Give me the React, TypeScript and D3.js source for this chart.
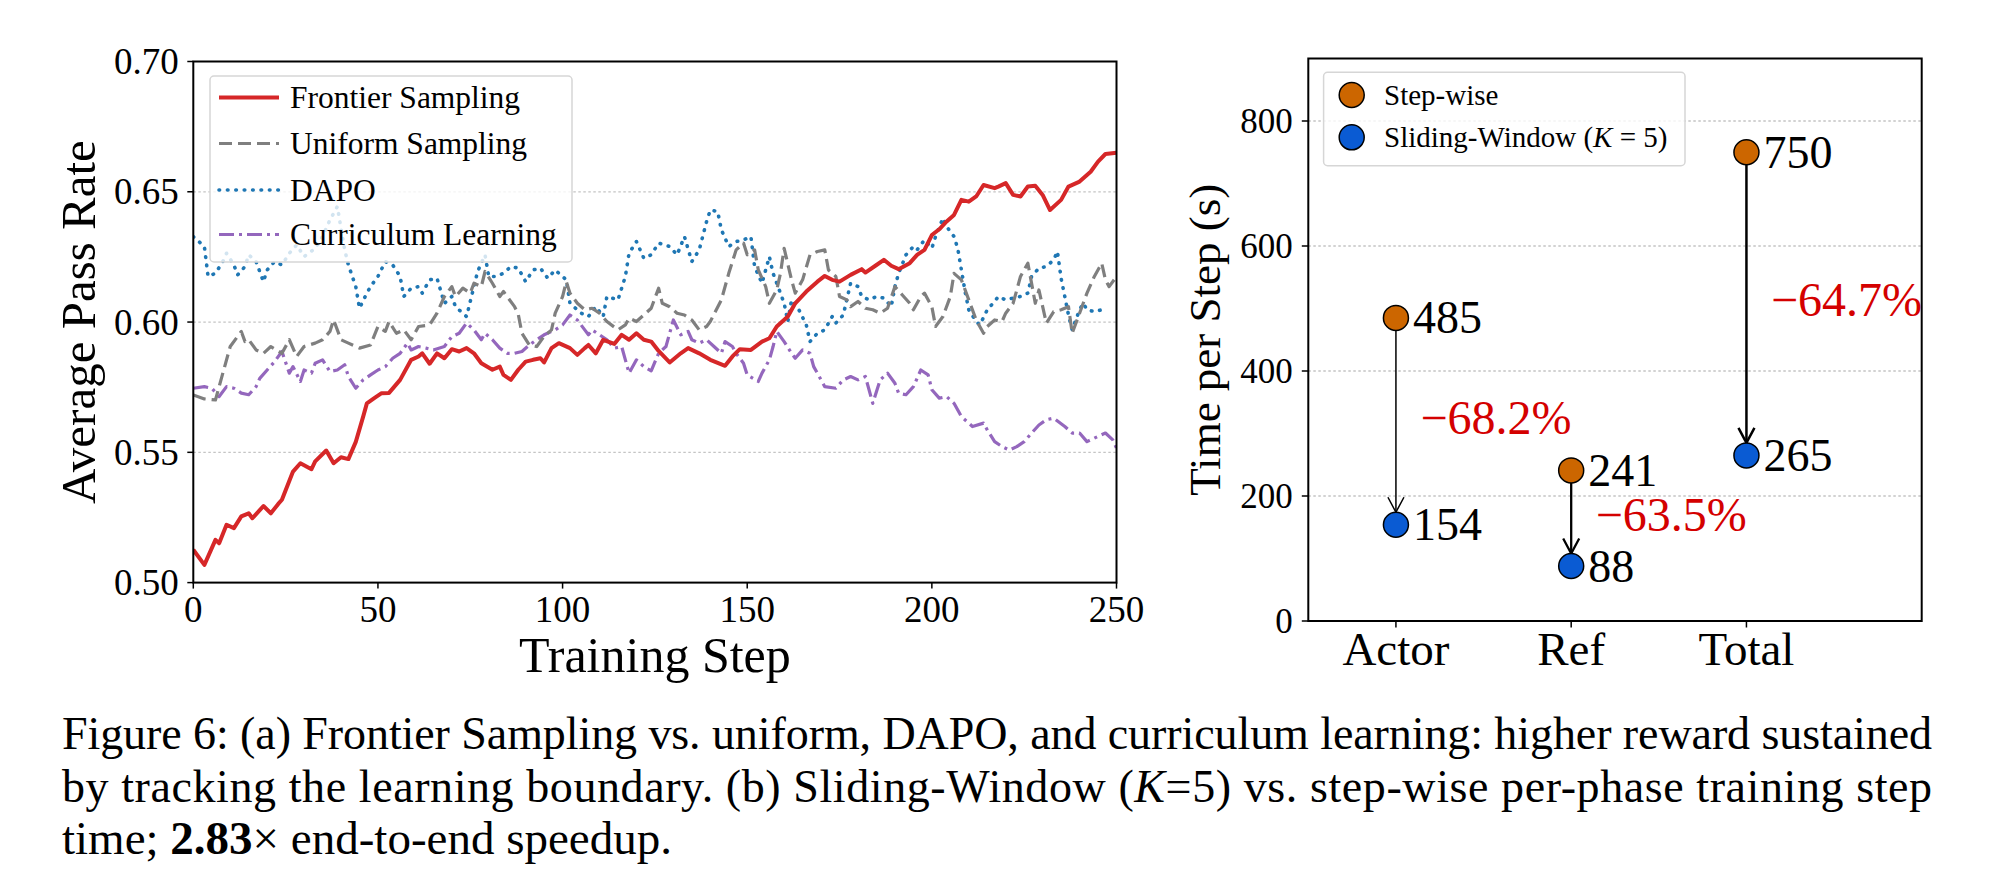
import React from "react";
import * as d3 from "d3";

type Pt = [number, number];

// ---------- Panel (a) data: [training step, average pass rate] ----------
const frontier: Pt[] = [
  [0, 0.5126], [3, 0.5068], [6, 0.5164], [7, 0.5151], [9, 0.5222], [11, 0.5209], [13, 0.5254], [15, 0.5266],
  [16, 0.5247], [19, 0.5294], [21, 0.5266], [23, 0.5302], [24, 0.5318], [27, 0.5426], [29, 0.5458], [32, 0.5435],
  [33, 0.5465], [36, 0.5507], [38, 0.5458], [40, 0.5481], [42, 0.5474], [44, 0.554], [46, 0.5637], [47, 0.5688],
  [49, 0.5708], [51, 0.5727], [53, 0.5728], [56, 0.5778], [59, 0.5855], [61, 0.5868], [62, 0.588], [64, 0.584],
  [66, 0.588], [68, 0.5861], [70, 0.5896], [72, 0.5887], [74, 0.59], [76, 0.588], [78, 0.5842], [81, 0.5817],
  [83, 0.5829], [84, 0.5797], [86, 0.5778], [88, 0.5817], [90, 0.5848], [92, 0.5855], [94, 0.5861], [95, 0.5845],
  [97, 0.59], [99, 0.5919], [102, 0.59], [104, 0.5874], [106, 0.59], [107, 0.5912], [109, 0.588], [111, 0.5932],
  [114, 0.5916], [116, 0.5951], [118, 0.5932], [120, 0.5957], [122, 0.5932], [124, 0.5925], [126, 0.5889],
  [129, 0.5845], [132, 0.588], [134, 0.59], [137, 0.588], [140, 0.5855], [144, 0.5832], [146, 0.5868],
  [148, 0.5896], [151, 0.5893], [154, 0.5925], [156, 0.5938], [158, 0.5983], [161, 0.6021], [163, 0.6072],
  [166, 0.6117], [169, 0.6155], [171, 0.6177], [173, 0.6162], [175, 0.6155], [178, 0.6181], [181, 0.6203],
  [182, 0.619], [185, 0.6219], [187, 0.6239], [189, 0.6216], [191, 0.6203], [194, 0.6226], [196, 0.6258],
  [198, 0.6277], [200, 0.6334], [202, 0.6356], [204, 0.6386], [206, 0.6411], [208, 0.6469], [210, 0.6462],
  [212, 0.6482], [214, 0.6526], [217, 0.6514], [218, 0.652], [220, 0.6533], [222, 0.6488], [224, 0.6482],
  [226, 0.652], [228, 0.6523], [230, 0.6488], [232, 0.643], [235, 0.6469], [237, 0.652], [240, 0.6539],
  [243, 0.6577], [245, 0.6616], [247, 0.6645], [250, 0.665],
];

const uniform: Pt[] = [
  [0, 0.572], [3, 0.5705], [6, 0.5701], [8, 0.5804], [10, 0.5906], [13, 0.5964], [14, 0.5925], [15, 0.5932],
  [17, 0.5893], [19, 0.588], [21, 0.5906], [24, 0.588], [26, 0.5932], [28, 0.5868], [30, 0.5906], [33, 0.5919],
  [35, 0.5932], [37, 0.5964], [38, 0.6008], [40, 0.5932], [42, 0.5919], [45, 0.59], [48, 0.5912], [50, 0.5983],
  [52, 0.5964], [53, 0.6002], [55, 0.5957], [57, 0.597], [59, 0.5932], [61, 0.5983], [64, 0.5989], [66, 0.6034],
  [68, 0.6098], [70, 0.6136], [71, 0.6098], [73, 0.613], [75, 0.6111], [76, 0.6149], [78, 0.6136], [79, 0.6194],
  [81, 0.6149], [83, 0.6098], [84, 0.6117], [87, 0.6059], [88, 0.603], [89, 0.5957], [91, 0.5912], [93, 0.5906],
  [95, 0.5945], [97, 0.597], [98, 0.6034], [100, 0.6098], [101, 0.6155], [102, 0.6111], [104, 0.6072],
  [106, 0.6047], [108, 0.6053], [110, 0.6034], [112, 0.6002], [115, 0.597], [117, 0.5989], [118, 0.6015],
  [120, 0.6002], [122, 0.6027], [124, 0.6053], [126, 0.613], [127, 0.6072], [129, 0.6059], [131, 0.6034],
  [133, 0.6027], [135, 0.6008], [137, 0.597], [139, 0.5983], [140, 0.6002], [143, 0.6085], [145, 0.6187],
  [147, 0.6277], [149, 0.6303], [150, 0.6258], [152, 0.6277], [153, 0.62], [155, 0.6136], [156, 0.6072],
  [158, 0.6123], [159, 0.6187], [160, 0.6283], [162, 0.6162], [163, 0.6111], [165, 0.6162], [167, 0.6258],
  [169, 0.6271], [171, 0.6277], [172, 0.62], [174, 0.6175], [175, 0.6098], [177, 0.6085], [178, 0.6059],
  [180, 0.6079], [182, 0.6053], [184, 0.6047], [186, 0.6034], [188, 0.6053], [190, 0.6136], [192, 0.6104],
  [194, 0.6072], [195, 0.6047], [197, 0.6098], [198, 0.6111], [200, 0.6059], [201, 0.5983], [203, 0.6021],
  [205, 0.6098], [206, 0.6187], [208, 0.6162], [210, 0.6085], [212, 0.6008], [214, 0.5957], [215, 0.5983],
  [217, 0.6008], [219, 0.6002], [220, 0.6034], [222, 0.6072], [223, 0.6123], [224, 0.6175], [226, 0.6226],
  [228, 0.6072], [229, 0.6123], [231, 0.5996], [233, 0.604], [235, 0.6047], [237, 0.6059], [238, 0.5957],
  [240, 0.6034], [242, 0.6111], [244, 0.6175], [246, 0.6226], [247, 0.6162], [248, 0.6136], [250, 0.6175],
];

const dapo: Pt[] = [
  [0, 0.6328], [3, 0.629], [4, 0.6175], [6, 0.6187], [8, 0.6232], [9, 0.6264], [11, 0.6219], [12, 0.6181],
  [14, 0.6213], [15, 0.6258], [17, 0.6232], [19, 0.6155], [20, 0.62], [22, 0.6232], [24, 0.6219], [26, 0.6264],
  [28, 0.6296], [30, 0.6251], [33, 0.6283], [35, 0.6328], [37, 0.6392], [39, 0.6443], [41, 0.6277], [42, 0.6219],
  [44, 0.6136], [45, 0.6053], [47, 0.6111], [48, 0.6136], [50, 0.6175], [52, 0.6232], [54, 0.6219], [56, 0.6175],
  [57, 0.6098], [59, 0.613], [61, 0.6136], [62, 0.6111], [64, 0.6162], [66, 0.6168], [68, 0.6072], [70, 0.6098],
  [71, 0.6059], [74, 0.6021], [75, 0.6079], [77, 0.6194], [79, 0.6258], [80, 0.6175], [82, 0.6175], [84, 0.6187],
  [86, 0.6213], [88, 0.6207], [90, 0.6155], [92, 0.62], [94, 0.6207], [96, 0.6168], [98, 0.62], [101, 0.6162],
  [102, 0.6072], [105, 0.6034], [107, 0.6021], [109, 0.6059], [111, 0.6021], [112, 0.6098], [115, 0.6085],
  [117, 0.6175], [118, 0.6264], [120, 0.6309], [122, 0.6245], [124, 0.6258], [126, 0.6303], [129, 0.629],
  [131, 0.6258], [133, 0.6328], [135, 0.6232], [137, 0.6277], [139, 0.6386], [140, 0.643], [142, 0.6424],
  [143, 0.6354], [145, 0.629], [147, 0.6309], [149, 0.6315], [151, 0.6328], [152, 0.6213], [154, 0.6149],
  [156, 0.6251], [157, 0.6187], [158, 0.6149], [160, 0.6072], [161, 0.6002], [162, 0.6085], [164, 0.6047],
  [166, 0.5989], [167, 0.5925], [169, 0.5957], [171, 0.597], [173, 0.6021], [174, 0.5996], [176, 0.6027],
  [178, 0.6149], [180, 0.6136], [181, 0.6098], [183, 0.6085], [185, 0.6098], [187, 0.6092], [189, 0.6059],
  [190, 0.6136], [191, 0.6187], [193, 0.6258], [195, 0.629], [196, 0.6277], [198, 0.6315], [200, 0.6283],
  [201, 0.6328], [203, 0.6399], [204, 0.6366], [206, 0.6328], [207, 0.6283], [208, 0.62], [209, 0.6117],
  [210, 0.6047], [212, 0.6002], [213, 0.5989], [215, 0.6047], [217, 0.6079], [218, 0.6098], [220, 0.6085],
  [222, 0.6092], [224, 0.6098], [226, 0.6111], [227, 0.6175], [229, 0.6207], [231, 0.6213], [233, 0.6239],
  [234, 0.6271], [235, 0.6168], [236, 0.6098], [237, 0.6027], [238, 0.597], [240, 0.6047], [241, 0.6072],
  [242, 0.6047], [244, 0.604], [246, 0.6047],
];

const curriculum: Pt[] = [
  [0, 0.5746], [3, 0.5752], [5, 0.5746], [7, 0.5714], [9, 0.5752], [11, 0.5746], [13, 0.5727], [15, 0.5721],
  [17, 0.5752], [18, 0.5784], [20, 0.5816], [22, 0.5848], [24, 0.5887], [26, 0.5804], [27, 0.5829], [29, 0.5772],
  [30, 0.5816], [32, 0.5804], [33, 0.5842], [35, 0.5855], [37, 0.581], [39, 0.5816], [41, 0.5836], [42, 0.5791],
  [44, 0.5746], [46, 0.5778], [48, 0.5797], [50, 0.5816], [52, 0.5829], [54, 0.5861], [56, 0.588], [58, 0.5919],
  [59, 0.5893], [61, 0.5906], [63, 0.59], [65, 0.5893], [68, 0.5906], [70, 0.5944], [72, 0.5957], [74, 0.5996],
  [76, 0.597], [78, 0.5932], [79, 0.5957], [81, 0.5932], [83, 0.59], [85, 0.588], [87, 0.588], [89, 0.5887],
  [91, 0.5912], [93, 0.5932], [95, 0.5951], [97, 0.5964], [98, 0.597], [100, 0.5989], [102, 0.6027],
  [104, 0.6008], [106, 0.597], [107, 0.5951], [108, 0.597], [110, 0.5951], [112, 0.5932], [114, 0.59],
  [116, 0.5906], [117, 0.5855], [118, 0.5804], [120, 0.5855], [122, 0.5829], [124, 0.5813], [126, 0.588],
  [128, 0.5906], [130, 0.6008], [132, 0.5951], [134, 0.5964], [135, 0.5932], [137, 0.5919], [139, 0.5932],
  [141, 0.5906], [143, 0.588], [144, 0.5925], [146, 0.5906], [147, 0.588], [149, 0.5842], [150, 0.5797],
  [153, 0.5772], [154, 0.5804], [156, 0.5855], [157, 0.5906], [158, 0.5964], [160, 0.5925], [162, 0.588],
  [163, 0.5861], [165, 0.5893], [167, 0.588], [168, 0.5829], [170, 0.5778], [171, 0.5752], [174, 0.5746],
  [176, 0.5778], [178, 0.5791], [180, 0.5778], [182, 0.5791], [184, 0.5688], [186, 0.5778], [188, 0.5804],
  [190, 0.5765], [191, 0.5727], [193, 0.5721], [195, 0.5752], [197, 0.5816], [199, 0.5797], [200, 0.574],
  [202, 0.5708], [204, 0.5714], [206, 0.5688], [208, 0.5637], [210, 0.5612], [211, 0.5599], [214, 0.5612],
  [215, 0.5586], [217, 0.5541], [219, 0.5522], [221, 0.5509], [223, 0.5522], [225, 0.5541], [227, 0.5574],
  [229, 0.5605], [231, 0.5625], [233, 0.5631], [236, 0.5599], [238, 0.5574], [240, 0.5574], [242, 0.5541],
  [245, 0.5561], [247, 0.5574], [249, 0.5548], [250, 0.5516],
];

const seriesNames = ["Frontier Sampling", "Uniform Sampling", "DAPO", "Curriculum Learning"];
const leftXTicks = [0, 50, 100, 150, 200, 250];
const leftYTicks = [0.5, 0.55, 0.6, 0.65, 0.7];

// ---------- Panel (b) data ----------
const phases = ["Actor", "Ref", "Total"];
const stepWise = [485, 241, 750];
const slidingWindow = [154, 88, 265];
const reductions = ["\u221268.2%", "\u221263.5%", "\u221264.7%"];
const rightYTicks = [0, 200, 400, 600, 800];

const FONT = "'Liberation Serif', 'Times New Roman', Times, serif";
const ORANGE = "#cc6600";
const BLUE = "#0a5bd3";
const RED_TXT = "#d40000";

const seriesStyle = [
  { color: "#d62728", width: 4, dash: "", cap: "butt" },
  { color: "#7f7f7f", width: 3.2, dash: "13,6", cap: "butt" },
  { color: "#1f77b4", width: 3.6, dash: "0.6,7.8", cap: "round" },
  { color: "#9467bd", width: 3.2, dash: "15,5,3,5", cap: "butt" },
];

export default function App() {
  // ---- left panel geometry ----
  const L = { x0: 193.3, x1: 1116.5, y0: 61.5, y1: 582.6 };
  const xL = d3.scaleLinear().domain([0, 250]).range([L.x0, L.x1]);
  const yL = d3.scaleLinear().domain([0.5, 0.7]).range([L.y1, L.y0]);
  const line = d3
    .line<Pt>()
    .x((d) => xL(d[0]))
    .y((d) => yL(d[1]));
  const allSeries = [frontier, uniform, dapo, curriculum];

  // ---- right panel geometry ----
  const R = { x0: 1308.3, x1: 1921.7, y0: 58.5, y1: 621 };
  const xR = d3.scaleLinear().domain([-0.5, 3.0]).range([R.x0, R.x1]);
  const yR = d3.scaleLinear().domain([0, 900]).range([R.y1, R.y0]);
  const rMark = 12.5;
  const arrowWidths = [1.5, 2.3, 2.5];

  const legendLeft = { x: 210, y: 76, w: 362, h: 186, rowY: [97.5, 143.5, 190, 234.5] };
  const legendRight = { x: 1323.6, y: 72.3, w: 361.4, h: 93.4, rowY: [95, 137.3] };

  return (
    <svg
      width={2000}
      height={870}
      viewBox="0 0 2000 870"
      style={{ position: "absolute", left: 0, top: 0, background: "#fff" }}
      fontFamily={FONT}
    >
      <defs>
        <clipPath id="clipL">
          <rect x={L.x0} y={L.y0} width={L.x1 - L.x0} height={L.y1 - L.y0} />
        </clipPath>
        <clipPath id="clipR">
          <rect x={R.x0} y={R.y0} width={R.x1 - R.x0} height={R.y1 - R.y0} />
        </clipPath>
      </defs>
      <rect x={0} y={0} width={2000} height={870} fill="#fff" />

      {/* ================= LEFT PANEL ================= */}
      {leftYTicks
        .filter((t) => t > 0.5 && t < 0.7)
        .map((t) => (
          <line key={"gl" + t} x1={L.x0} x2={L.x1} y1={yL(t)} y2={yL(t)} stroke="#c4c4c4" strokeWidth={1.3} strokeDasharray="2.5,2.5" />
        ))}
      <g clipPath="url(#clipL)">
        {[3, 2, 1, 0].map((i) => (
          <path
            key={"s" + i}
            d={line(allSeries[i]) || ""}
            fill="none"
            stroke={seriesStyle[i].color}
            strokeWidth={seriesStyle[i].width}
            strokeDasharray={seriesStyle[i].dash || undefined}
            strokeLinecap={seriesStyle[i].cap as any}
            strokeLinejoin="round"
          />
        ))}
      </g>
      <rect x={L.x0} y={L.y0} width={L.x1 - L.x0} height={L.y1 - L.y0} fill="none" stroke="#000" strokeWidth={2} />
      {leftYTicks.map((t) => (
        <g key={"yl" + t}>
          <line x1={L.x0 - 6} x2={L.x0} y1={yL(t)} y2={yL(t)} stroke="#000" strokeWidth={1.5} />
          <text x={L.x0 - 14.5} y={yL(t)} textAnchor="end" dominantBaseline="central" fontSize={37}>
            {d3.format(".2f")(t)}
          </text>
        </g>
      ))}
      {leftXTicks.map((t) => (
        <g key={"xl" + t}>
          <line x1={xL(t)} x2={xL(t)} y1={L.y1} y2={L.y1 + 6} stroke="#000" strokeWidth={1.5} />
          <text x={xL(t)} y={L.y1 + 39.5} textAnchor="middle" fontSize={37}>
            {t}
          </text>
        </g>
      ))}
      <text x={(L.x0 + L.x1) / 2} y={672} textAnchor="middle" fontSize={50}>
        Training Step
      </text>
      <text transform={`translate(95,${(L.y0 + L.y1) / 2}) rotate(-90)`} textAnchor="middle" fontSize={49}>
        Average Pass Rate
      </text>

      {/* left legend */}
      <rect
        x={legendLeft.x}
        y={legendLeft.y}
        width={legendLeft.w}
        height={legendLeft.h}
        rx={4}
        fill="#fff"
        fillOpacity={0.8}
        stroke="#d6d6d6"
        strokeWidth={1.5}
      />
      {seriesNames.map((name, i) => (
        <g key={"lg" + i}>
          <line
            x1={219}
            x2={279}
            y1={legendLeft.rowY[i]}
            y2={legendLeft.rowY[i]}
            stroke={seriesStyle[i].color}
            strokeWidth={seriesStyle[i].width}
            strokeDasharray={seriesStyle[i].dash || undefined}
            strokeLinecap={seriesStyle[i].cap as any}
          />
          <text x={290} y={legendLeft.rowY[i]} dominantBaseline="central" fontSize={31.5}>
            {name}
          </text>
        </g>
      ))}

      {/* ================= RIGHT PANEL ================= */}
      {rightYTicks
        .filter((t) => t > 0)
        .map((t) => (
          <line key={"gr" + t} x1={R.x0} x2={R.x1} y1={yR(t)} y2={yR(t)} stroke="#c4c4c4" strokeWidth={1.3} strokeDasharray="2.5,2.5" />
        ))}

      {phases.map((p, i) => {
        const cx = xR(i);
        const yA = yR(stepWise[i]) + rMark;
        const yB = yR(slidingWindow[i]) - rMark;
        const hl = 15;
        const hw = 8;
        const sw = arrowWidths[i];
        return (
          <g key={"arr" + p}>
            <line x1={cx} x2={cx} y1={yA} y2={yB - 0.5} stroke="#000" strokeWidth={sw} />
            <polyline
              points={`${cx - hw},${yB - hl} ${cx},${yB} ${cx + hw},${yB - hl}`}
              fill="none"
              stroke="#000"
              strokeWidth={sw}
              strokeLinejoin="miter"
            />
          </g>
        );
      })}

      {phases.map((p, i) => (
        <g key={"mk" + p}>
          <circle cx={xR(i)} cy={yR(stepWise[i])} r={rMark} fill={ORANGE} stroke="#000" strokeWidth={1.5} />
          <circle cx={xR(i)} cy={yR(slidingWindow[i])} r={rMark} fill={BLUE} stroke="#000" strokeWidth={1.5} />
          <text x={xR(i) + 17} y={yR(stepWise[i])} dominantBaseline="central" fontSize={46}>
            {stepWise[i]}
          </text>
          <text x={xR(i) + 17} y={yR(slidingWindow[i])} dominantBaseline="central" fontSize={46}>
            {slidingWindow[i]}
          </text>
        </g>
      ))}
      <g clipPath="url(#clipR)">
        {phases.map((p, i) => (
          <text
            key={"pc" + p}
            x={xR(i + 0.14)}
            y={yR((stepWise[i] + slidingWindow[i]) / 2) - 4}
            dominantBaseline="central"
            fontSize={48}
            fill={RED_TXT}
          >
            {reductions[i]}
          </text>
        ))}
      </g>

      <rect x={R.x0} y={R.y0} width={R.x1 - R.x0} height={R.y1 - R.y0} fill="none" stroke="#000" strokeWidth={2} />
      {rightYTicks.map((t) => (
        <g key={"yr" + t}>
          <line x1={R.x0 - 6.5} x2={R.x0} y1={yR(t)} y2={yR(t)} stroke="#000" strokeWidth={1.5} />
          <text x={R.x0 - 15.6} y={yR(t)} textAnchor="end" dominantBaseline="central" fontSize={35}>
            {t}
          </text>
        </g>
      ))}
      {phases.map((p, i) => (
        <g key={"xr" + p}>
          <line x1={xR(i)} x2={xR(i)} y1={R.y1} y2={R.y1 + 6.5} stroke="#000" strokeWidth={1.5} />
          <text x={xR(i)} y={665} textAnchor="middle" fontSize={47}>
            {p}
          </text>
        </g>
      ))}
      <text transform={`translate(1220,${(R.y0 + R.y1) / 2}) rotate(-90)`} textAnchor="middle" fontSize={45}>
        Time per Step (s)
      </text>

      {/* right legend */}
      <rect
        x={legendRight.x}
        y={legendRight.y}
        width={legendRight.w}
        height={legendRight.h}
        rx={4}
        fill="#fff"
        fillOpacity={0.8}
        stroke="#d6d6d6"
        strokeWidth={1.5}
      />
      <circle cx={1351.7} cy={legendRight.rowY[0]} r={rMark} fill={ORANGE} stroke="#000" strokeWidth={1.5} />
      <circle cx={1351.7} cy={legendRight.rowY[1]} r={rMark} fill={BLUE} stroke="#000" strokeWidth={1.5} />
      <text x={1384} y={legendRight.rowY[0]} dominantBaseline="central" fontSize={29}>
        Step-wise
      </text>
      <text x={1384} y={legendRight.rowY[1]} dominantBaseline="central" fontSize={29}>
        Sliding-Window (<tspan fontStyle="italic">K</tspan> = 5)
      </text>

      {/* ================= CAPTION ================= */}
      <text x={62} y={749} fontSize={46} textLength={1870} lengthAdjust="spacing">
        Figure 6: (a) Frontier Sampling vs. uniform, DAPO, and curriculum learning: higher reward sustained
      </text>
      <text x={62} y={802} fontSize={46} textLength={1870} lengthAdjust="spacing">
        by tracking the learning boundary. (b) Sliding-Window (<tspan fontStyle="italic">K</tspan>=5) vs. step-wise per-phase training step
      </text>
      <text x={62} y={854} fontSize={47}>
        time; <tspan fontWeight="bold">2.83</tspan>× end-to-end speedup.
      </text>
    </svg>
  );
}
